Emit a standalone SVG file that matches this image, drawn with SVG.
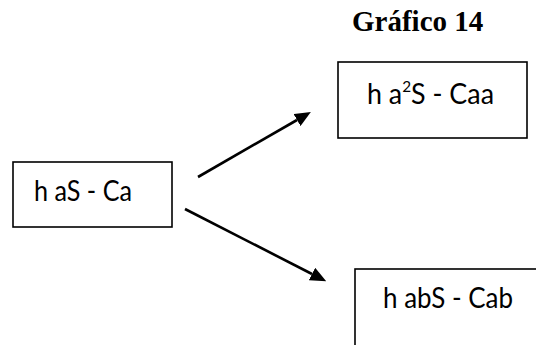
<svg xmlns="http://www.w3.org/2000/svg" width="536" height="345" viewBox="0 0 536 345">
<style>
.box{fill:#fff;stroke:#000;stroke-width:1.6}
.lbl{font-family:Lato,"Open Sans",sans-serif;font-size:28px;fill:#000}
.ttl{font-family:"Liberation Serif",serif;font-weight:bold;font-size:29px;fill:#000}
.con{stroke:#000;stroke-width:2.6;fill:none}
</style>
<defs>
<marker id="ah" markerUnits="userSpaceOnUse" viewBox="0 0 16 14" refX="0" refY="7" markerWidth="16" markerHeight="14" orient="auto">
<path d="M0,0 L16,7 L0,14 Z" fill="#000"/>
</marker>
</defs>
<rect width="536" height="345" fill="#fff"/>
<text class="ttl" x="352" y="31">Gráfico 14</text>
<g id="node-has">
<rect class="box" x="13" y="162" width="159" height="65"/>
<text class="lbl" x="34" y="201" textLength="98" lengthAdjust="spacingAndGlyphs">h aS - Ca</text>
</g>
<g id="node-ha2s">
<rect class="box" x="338" y="62" width="189" height="76"/>
<text class="lbl" x="367" y="104" textLength="127" lengthAdjust="spacingAndGlyphs">h a<tspan font-size="16" dy="-12">2</tspan><tspan dy="12">S - Caa</tspan></text>
</g>
<g id="node-habs">
<rect class="box" x="355" y="269" width="200" height="100"/>
<text class="lbl" x="383" y="308" textLength="130" lengthAdjust="spacingAndGlyphs">h abS - Cab</text>
</g>
<g id="connectors">
<line class="con" x1="198" y1="177" x2="297" y2="120" marker-end="url(#ah)"/>
<line class="con" x1="185" y1="209" x2="312" y2="274" marker-end="url(#ah)"/>
</g>
</svg>
